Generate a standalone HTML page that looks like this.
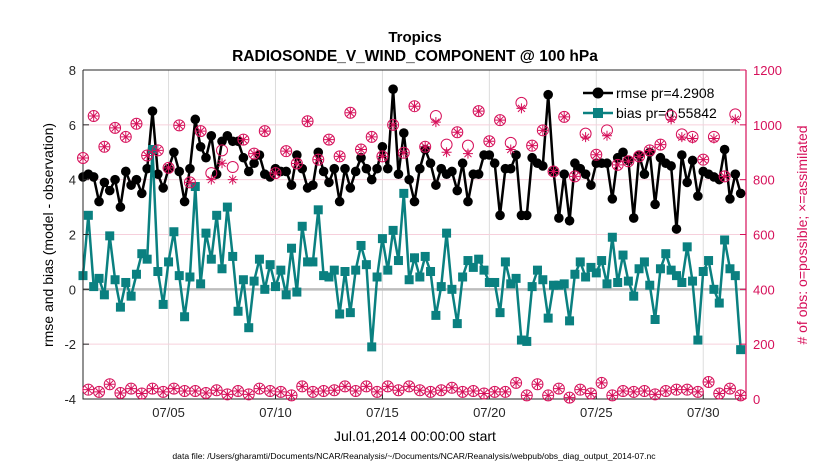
<!DOCTYPE html>
<html><head><meta charset="utf-8"><style>
html,body{margin:0;padding:0;background:#fff;}
svg{display:block;font-family:"Liberation Sans",sans-serif;}
</style></head><body>
<svg id="chart" width="830" height="470" viewBox="0 0 830 470">
<text x="415" y="42" text-anchor="middle" font-size="15" font-weight="bold">Tropics</text>
<text x="415" y="61" text-anchor="middle" font-size="15.5" font-weight="bold">RADIOSONDE_V_WIND_COMPONENT @ 100 hPa</text>
<g id="grid"></g>
<g id="series"></g>
<g id="axes"></g>
<text transform="translate(53,235) rotate(-90)" text-anchor="middle" font-size="14">rmse and bias (model - observation)</text>
<text transform="translate(807,235) rotate(-90)" text-anchor="middle" font-size="14" fill="#d6105a"># of obs: o=possible; ×=assimilated</text>
<text x="415" y="441" text-anchor="middle" font-size="14">Jul.01,2014 00:00:00 start</text>
<text x="414" y="459" text-anchor="middle" font-size="8.6">data file: /Users/gharamti/Documents/NCAR/Reanalysis/~/Documents/NCAR/Reanalysis/webpub/obs_diag_output_2014-07.nc</text>
<g id="legend"></g>
<g id="obsmarks"></g>
</svg>
<script>
const rmse = [4.1,4.2,4.1,3.2,3.9,3.6,4.0,3.0,4.3,3.8,4.0,3.5,4.4,6.5,4.2,3.7,4.4,5.0,4.3,3.2,4.4,6.2,5.2,4.8,5.6,4.2,5.4,5.6,5.4,5.4,4.8,4.3,4.6,4.9,4.2,4.1,4.4,4.3,4.3,3.8,4.9,4.4,3.7,
3.8,5.0,4.3,3.9,4.4,3.2,4.4,3.7,4.3,4.8,4.4,4.0,4.4,5.2,4.4,7.3,4.2,5.7,4.0,3.2,4.4,5.1,4.6,3.8,4.4,4.2,4.3,3.6,4.6,3.2,4.2,4.2,4.9,4.9,4.6,2.7,4.4,4.4,4.9,2.7,
2.7,4.8,4.6,4.5,7.1,4.3,2.6,4.2,2.5,4.6,4.4,4.2,3.8,4.6,4.6,4.6,3.3,4.8,5.0,4.7,2.6,4.9,4.2,5.0,3.1,4.8,4.6,4.5,2.2,4.9,3.9,4.7,3.4,4.3,4.2,4.1,4.0,5.1,3.3,4.2,3.5];
const bias = [0.5,2.7,0.1,0.4,-0.2,1.95,0.35,-0.65,0.25,-0.25,0.55,1.3,1.1,5.1,0.65,-0.55,1.0,2.1,0.5,-1.0,0.45,3.75,0.2,2.05,1.1,2.7,0.75,3.0,1.2,-0.8,0.35,-1.4,0.3,1.1,0.0,0.9,0.1,0.7,-0.2,1.5,-0.1,2.3,1.0,
1.0,2.9,0.5,0.45,0.7,-0.9,0.65,-0.85,0.7,1.6,0.9,-2.1,0.45,1.85,0.7,2.15,1.05,3.5,0.35,1.15,0.45,1.2,0.65,-0.95,0.1,2.05,0.0,-1.25,0.45,1.05,0.8,1.1,0.7,0.25,0.25,-0.85,1.0,0.2,0.4,-1.85,
-1.9,0.1,0.7,0.35,-1.05,0.15,0.15,0.2,-1.15,0.55,1.0,0.45,0.8,0.6,1.05,0.2,1.9,0.25,1.25,0.3,-0.25,0.75,1.0,0.15,-1.1,0.75,1.3,0.7,0.5,0.25,1.55,0.3,-1.85,0.65,1.05,0.0,-0.5,1.8,0.75,0.5,-2.2];
const obsPossible = [879,34,1032,26,920,54,989,22,956,38,1004,20,888,38,907,26,843,38,998,29,790,29,977,22,824,32,907,17,846,29,946,17,895,38,977,29,824,26,904,13,859,46,1013,
26,873,29,946,32,885,46,1044,29,910,46,956,26,885,46,1000,32,898,46,1068,32,920,26,1032,32,928,41,973,26,924,29,1050,20,940,26,1017,26,934,59,1080,
13,924,54,980,13,830,38,1029,5,812,34,968,20,891,59,980,13,854,29,867,26,885,29,907,17,928,29,1032,34,965,34,956,26,873,62,956,20,812,38,1038,13];
const obsAssim = [879,34,1032,26,920,54,989,22,956,38,1004,20,888,38,907,26,843,38,998,29,790,29,977,22,800,32,860,17,800,29,946,17,895,38,977,29,824,26,904,13,859,46,1013,
26,873,29,946,32,885,46,1044,29,910,46,956,26,885,46,1000,32,898,46,1068,32,920,26,1010,32,900,41,973,26,895,29,1050,20,940,26,1017,26,910,59,1060,
13,924,54,980,13,830,38,1029,5,812,34,955,20,891,59,960,13,854,29,867,26,885,29,907,17,928,29,1020,34,955,34,950,26,873,62,950,20,812,38,1020,13];
const xTicks = [5,10,15,20,25,30];
const xTickLabels = ["07/05","07/10","07/15","07/20","07/25","07/30"];
const yTicks = [-4,-2,0,2,4,6,8];
const y2Ticks = [0,200,400,600,800,1000,1200];

const NS="http://www.w3.org/2000/svg";
const L=83,R=746,T=70,B=399;
const xs=d=>L+(d-1)/(32-1)*(R-L);
const ys=v=>B-(v+4)/12*(B-T);
const y2s=v=>B-v/1200*(B-T);
const dayOf=i=>1+i*0.25;
function mk(tag,attrs,parent){const e=document.createElementNS(NS,tag);for(const k in attrs)e.setAttribute(k,attrs[k]);parent.appendChild(e);return e;}
const grid=document.getElementById('grid'),ser=document.getElementById('series'),ax=document.getElementById('axes'),leg=document.getElementById('legend'),om=document.getElementById('obsmarks');

xTicks.forEach(d=>{const g=mk('line',{x1:xs(d),x2:xs(d),y1:T,y2:B,stroke:'#dcdcdc','stroke-width':1},grid);

});
y2Ticks.forEach(v=>{if(v===0||v===1200)return;const g=mk('line',{x1:L,x2:R,y1:y2s(v),y2:y2s(v),stroke:'#f6d0dc','stroke-width':1},grid);

});
const zl=mk('line',{x1:L,x2:R,y1:ys(0),y2:ys(0),stroke:'#bdbdbd','stroke-width':2.5},grid);



const rp=rmse.map((v,i)=>xs(dayOf(i)).toFixed(1)+','+ys(v).toFixed(1)).join(' ');
const rl=mk('polyline',{points:rp,fill:'none',stroke:'#000','stroke-width':2.5},ser);


rmse.forEach((v,i)=>{const c=mk('circle',{cx:xs(dayOf(i)),cy:ys(v),r:4.8,fill:'#000'},ser);

});
const bp=bias.map((v,i)=>xs(dayOf(i)).toFixed(1)+','+ys(v).toFixed(1)).join(' ');
const bl=mk('polyline',{points:bp,fill:'none',stroke:'#0a8080','stroke-width':2.5},ser);


bias.forEach((v,i)=>{const s=mk('rect',{x:xs(dayOf(i))-4.5,y:ys(v)-4.5,width:9,height:9,fill:'#0a8080'},ser);

});

const box=mk('path',{d:`M${L},${T}H${R}M${L},${T}V${B}H${R}`,fill:'none',stroke:'#262626','stroke-width':1},ax);


const rax=mk('line',{x1:R,x2:R,y1:T,y2:B,stroke:'#d6105a','stroke-width':1.2},ax);


xTicks.forEach((d,i)=>{mk('line',{x1:xs(d),x2:xs(d),y1:B,y2:B-6,stroke:'#262626'},ax);
const t=mk('text',{x:xs(d),y:B+18,'text-anchor':'middle','font-size':13,fill:'#262626'},ax);t.textContent=xTickLabels[i];

});
yTicks.forEach(v=>{mk('line',{x1:L,x2:L+6,y1:ys(v),y2:ys(v),stroke:'#262626'},ax);
const t=mk('text',{x:L-7,y:ys(v)+5,'text-anchor':'end','font-size':13,fill:'#262626'},ax);t.textContent=v;

});
y2Ticks.forEach(v=>{mk('line',{x1:R,x2:R-6,y1:y2s(v),y2:y2s(v),stroke:'#d6105a'},ax);
const t=mk('text',{x:R+7,y:y2s(v)+5,'font-size':13,fill:'#d6105a'},ax);t.textContent=v;

});

const lg=[{y:93,c:'#000',t:'rmse pr=4.2908',m:'c'},{y:113,c:'#0a8080',t:'bias pr=0.55842',m:'s'}];
lg.forEach(e=>{mk('line',{x1:583,x2:613,y1:e.y,y2:e.y,stroke:e.c,'stroke-width':2.5},leg);
if(e.m==='c')mk('circle',{cx:598,cy:e.y,r:5.5,fill:e.c},leg);else mk('rect',{x:593,y:e.y-5,width:10,height:10,fill:e.c},leg);
const t=mk('text',{x:616,y:e.y+5,'font-size':14,fill:'#000'},leg);t.textContent=e.t;

});

const pk='#d6105a';
obsPossible.forEach((v,i)=>{const c=mk('circle',{cx:xs(dayOf(i)),cy:y2s(v),r:5.5,fill:'none',stroke:pk,'stroke-width':1},om);

});
obsAssim.forEach((v,i)=>{const x=xs(dayOf(i)),y=y2s(v),r=5;
const p=mk('path',{d:`M${x-r},${y}H${x+r}M${x},${y-r}V${y+r}M${x-3.5},${y-3.5}L${x+3.5},${y+3.5}M${x-3.5},${y+3.5}L${x+3.5},${y-3.5}`,stroke:pk,'stroke-width':1,fill:'none'},om);

});
</script>
</body></html>
